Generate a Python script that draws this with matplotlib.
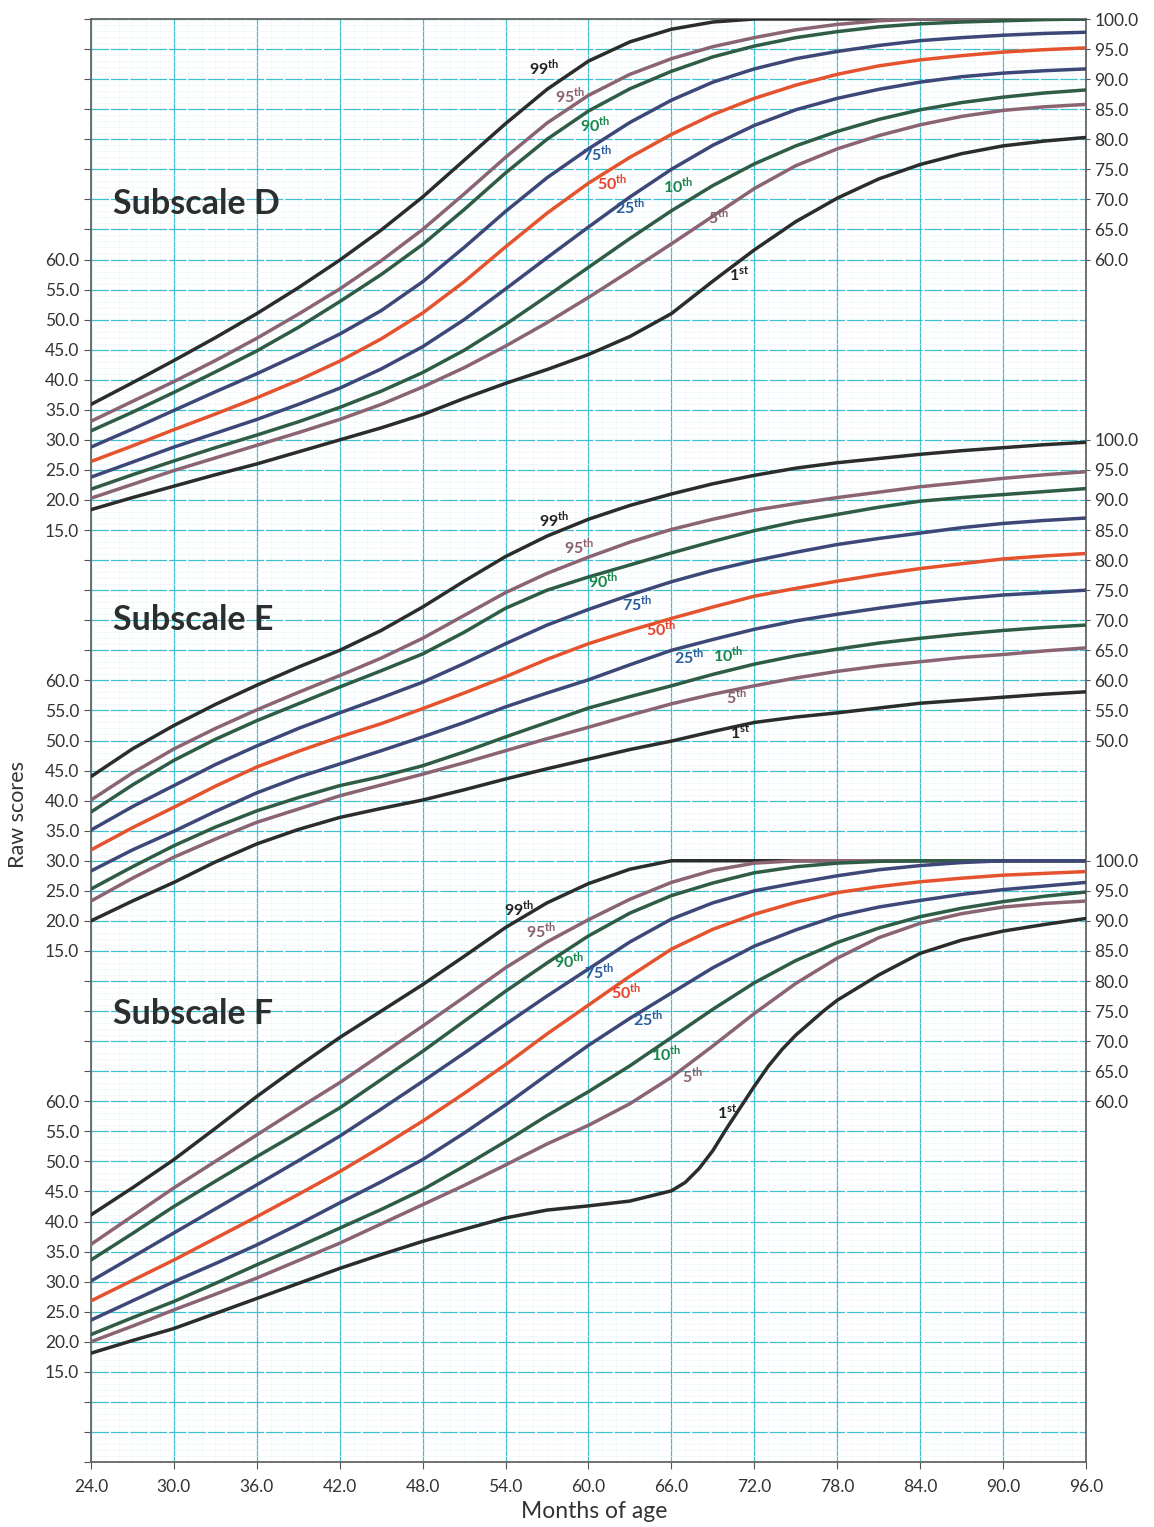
import matplotlib.pyplot as plt
from matplotlib.ticker import MultipleLocator

plt.rcParams['font.family'] = ['Lato', 'DejaVu Sans']
plt.rcParams['mathtext.fontset'] = 'custom'
plt.rcParams['mathtext.rm'] = 'Lato'
plt.rcParams['mathtext.bf'] = 'Lato:bold'

# months of age shared by most curves
months = [24, 27, 30, 33, 36, 39, 42, 45, 48, 51, 54, 57, 60,
          63, 66, 69, 72, 75, 78, 81, 84, 87, 90, 93, 96]

# Subscale D raw scores
d_p99 = [35.9, 39.5, 43.2, 47.0, 51.0, 55.3, 59.9, 64.9, 70.4, 76.5, 82.6, 88.3, 93.0,
         96.2, 98.3, 99.5, 100, 100, 100, 100, 100, 100, 100, 100, 100]
d_p95 = [33.1, 36.4, 39.7, 43.2, 46.9, 50.9, 55.1, 59.8, 65.0, 70.9, 77.0, 82.7, 87.3,
         90.8, 93.4, 95.4, 96.9, 98.2, 99.1, 99.7, 100, 100, 100, 100, 100]
d_p90 = [31.5, 34.6, 37.9, 41.3, 44.8, 48.7, 53.0, 57.5, 62.5, 68.3, 74.4, 80.0, 84.7,
         88.4, 91.3, 93.7, 95.5, 96.9, 97.9, 98.7, 99.2, 99.5, 99.7, 99.9, 100]
d_p75 = [28.8, 31.8, 34.9, 38.0, 41.0, 44.2, 47.6, 51.5, 56.3, 62.0, 68.0, 73.6, 78.4,
         82.8, 86.5, 89.5, 91.7, 93.4, 94.6, 95.6, 96.4, 96.9, 97.3, 97.6, 97.8]
d_p50 = [26.4, 29.0, 31.7, 34.3, 37.0, 39.9, 43.1, 46.8, 51.1, 56.3, 62.1, 67.7, 72.7,
         77.0, 80.8, 84.1, 86.8, 89.0, 90.8, 92.2, 93.2, 93.9, 94.5, 94.9, 95.2]
d_p25 = [23.8, 26.3, 28.8, 31.1, 33.4, 35.9, 38.6, 41.8, 45.5, 50.0, 55.1, 60.3, 65.4,
         70.4, 75.0, 79.0, 82.3, 84.9, 86.8, 88.3, 89.5, 90.4, 91.0, 91.4, 91.7]
d_p10 = [21.8, 24.2, 26.5, 28.7, 30.8, 33.0, 35.4, 38.1, 41.2, 44.9, 49.2, 53.9, 58.7,
         63.5, 68.1, 72.3, 75.9, 78.9, 81.3, 83.3, 84.9, 86.1, 87.0, 87.7, 88.2]
d_p5 = [20.3, 22.6, 24.9, 27.0, 29.1, 31.2, 33.4, 35.9, 38.8, 42.0, 45.6, 49.5, 53.7,
        58.1, 62.6, 67.2, 71.8, 75.6, 78.4, 80.6, 82.4, 83.8, 84.8, 85.4, 85.8]
d_p1 = [18.4, 20.4, 22.3, 24.2, 26.0, 28.0, 30.0, 32.0, 34.2, 36.9, 39.4, 41.7, 44.2,
        47.2, 51.0, 56.4, 61.6, 66.3, 70.2, 73.4, 75.8, 77.6, 78.9, 79.7, 80.3]

# Subscale E raw scores
e_p99 = [44.0, 48.6, 52.5, 56.0, 59.2, 62.2, 65.0, 68.3, 72.2, 76.5, 80.6, 84.0, 86.8,
         89.1, 91.0, 92.7, 94.1, 95.3, 96.2, 96.9, 97.6, 98.2, 98.7, 99.2, 99.6]
e_p95 = [40.1, 44.6, 48.6, 52.0, 55.1, 58.0, 60.8, 63.7, 67.0, 70.8, 74.6, 77.8, 80.5,
         83.0, 85.1, 86.8, 88.3, 89.4, 90.4, 91.3, 92.2, 92.9, 93.6, 94.2, 94.7]
e_p90 = [38.1, 42.6, 46.7, 50.2, 53.3, 56.1, 58.9, 61.6, 64.4, 68.0, 72.0, 75.0, 77.2,
         79.2, 81.2, 83.1, 84.9, 86.4, 87.6, 88.8, 89.8, 90.4, 90.9, 91.4, 91.9]
e_p75 = [35.1, 39.0, 42.5, 46.0, 49.1, 52.0, 54.6, 57.1, 59.7, 62.8, 66.1, 69.2, 71.8,
         74.2, 76.4, 78.3, 79.9, 81.3, 82.6, 83.6, 84.5, 85.4, 86.1, 86.6, 87.0]
e_p50 = [31.8, 35.5, 38.9, 42.4, 45.6, 48.2, 50.6, 52.8, 55.3, 57.9, 60.6, 63.5, 66.1,
         68.3, 70.3, 72.2, 74.0, 75.3, 76.5, 77.6, 78.6, 79.4, 80.2, 80.7, 81.1]
e_p25 = [28.3, 31.8, 34.9, 38.2, 41.3, 43.9, 46.1, 48.3, 50.6, 53.0, 55.6, 57.9, 60.1,
         62.6, 65.0, 66.8, 68.5, 69.9, 71.0, 72.0, 72.9, 73.6, 74.2, 74.6, 75.0]
e_p10 = [25.3, 29.0, 32.5, 35.6, 38.3, 40.5, 42.5, 44.0, 45.8, 48.1, 50.6, 53.0, 55.4,
         57.3, 59.1, 61.0, 62.7, 64.1, 65.2, 66.2, 67.0, 67.7, 68.3, 68.8, 69.2]
e_p5 = [23.3, 27.1, 30.6, 33.6, 36.4, 38.6, 40.8, 42.6, 44.4, 46.3, 48.3, 50.3, 52.2,
        54.2, 56.1, 57.7, 59.1, 60.4, 61.5, 62.4, 63.1, 63.8, 64.3, 64.9, 65.4]
e_p1 = [20.0, 23.3, 26.4, 29.8, 32.8, 35.2, 37.2, 38.7, 40.1, 41.8, 43.6, 45.3, 46.9,
        48.5, 49.9, 51.5, 53.0, 53.9, 54.6, 55.4, 56.2, 56.7, 57.2, 57.7, 58.1]

# Subscale F raw scores
f_p99 = [41.1, 45.6, 50.3, 55.5, 60.8, 65.8, 70.6, 75.0, 79.4, 84.1, 88.9, 93.0, 96.2,
         98.6, 100, 100, 100, 100, 100, 100, 100, 100, 100, 100, 100]
f_p95 = [36.2, 40.9, 45.6, 50.0, 54.4, 58.8, 63.1, 67.8, 72.5, 77.3, 82.2, 86.5, 90.2,
         93.6, 96.4, 98.4, 99.6, 100, 100, 100, 100, 100, 100, 100, 100]
f_p90 = [33.6, 38.0, 42.5, 46.7, 50.8, 54.8, 58.9, 63.6, 68.3, 73.3, 78.3, 83.0, 87.5,
         91.3, 94.2, 96.3, 98.0, 99.0, 99.6, 99.9, 100, 100, 100, 100, 100]
f_p75 = [30.1, 34.1, 38.1, 42.1, 46.1, 50.1, 54.2, 58.7, 63.3, 68.0, 72.8, 77.5, 82.0,
         86.5, 90.3, 93.0, 95.0, 96.3, 97.5, 98.5, 99.2, 99.7, 100, 100, 100]
f_p50 = [26.8, 30.2, 33.6, 37.2, 40.8, 44.5, 48.3, 52.4, 56.7, 61.3, 66.1, 71.2, 76.0,
         80.8, 85.3, 88.6, 91.1, 93.1, 94.7, 95.7, 96.5, 97.1, 97.6, 97.9, 98.2]
f_p25 = [23.6, 26.8, 30.0, 33.0, 36.1, 39.5, 43.1, 46.6, 50.3, 54.7, 59.4, 64.4, 69.3,
         73.8, 78.0, 82.2, 85.8, 88.5, 90.8, 92.3, 93.4, 94.4, 95.2, 95.8, 96.4]
f_p10 = [21.2, 24.0, 26.7, 29.7, 32.8, 35.8, 38.9, 42.0, 45.3, 49.2, 53.3, 57.6, 61.6,
         65.9, 70.6, 75.3, 79.7, 83.4, 86.4, 88.8, 90.7, 92.1, 93.2, 94.1, 94.8]
f_p5 = [20.0, 22.6, 25.3, 27.9, 30.6, 33.5, 36.4, 39.6, 42.8, 46.0, 49.4, 52.9, 56.0,
        59.6, 64.0, 69.2, 74.6, 79.6, 83.8, 87.2, 89.6, 91.2, 92.3, 92.9, 93.3]
f_p1_months = [24, 27, 30, 33, 36, 39, 42, 45, 48, 51, 54, 57, 60, 63, 66, 67, 68, 69,
               70, 71, 72, 73, 74, 75, 76, 77, 78, 81, 84, 87, 90, 93, 96]
f_p1 = [18.1, 20.2, 22.2, 24.7, 27.2, 29.7, 32.2, 34.5, 36.7, 38.7, 40.6, 41.9, 42.6,
        43.4, 45.1, 46.5, 48.8, 51.8, 55.5, 59.0, 62.5, 65.8, 68.6, 71.0, 73.0, 75.0,
        76.8, 81.0, 84.6, 86.8, 88.3, 89.4, 90.4]

pct_names = ['99th', '95th', '90th', '75th', '50th', '25th', '10th', '5th', '1st']
line_colors = ['#2a2d2c', '#8b6473', '#2f5c44', '#3d4878', '#e5532e',
               '#3d4878', '#2f5c44', '#8b6473', '#2a2d2c']
text_colors = ['#222222', '#8a5f6e', '#16864a', '#2a5c9c', '#e8402a',
               '#2a5c9c', '#16864a', '#8a5f6e', '#222222']

# label positions (month, raw score) for each subscale
d_label_pos = [(56.8, 91.9), (58.7, 87.3), (60.5, 82.4), (60.6, 77.6), (61.7, 72.8),
               (63.0, 68.8), (66.5, 72.3), (69.4, 67.2), (70.9, 57.5)]
e_label_pos = [(57.5, 86.7), (59.3, 82.2), (61.1, 76.6), (63.5, 72.8), (65.3, 68.6),
               (67.3, 63.9), (70.1, 64.3), (70.7, 57.3), (71.0, 51.3)]
f_label_pos = [(55.0, 92.0), (56.6, 88.4), (58.6, 83.4), (60.8, 81.5), (62.7, 78.2),
               (64.3, 73.7), (65.6, 67.9), (67.5, 64.2), (70.0, 58.2)]

left_ticks = [15, 20, 25, 30, 35, 40, 45, 50, 55, 60]
d_right = [60, 65, 70, 75, 80, 85, 90, 95, 100]
e_right = [50, 55, 60, 65, 70, 75, 80, 85, 90, 95, 100]
f_right = [60, 65, 70, 75, 80, 85, 90, 95, 100]

# each subscale is stacked on the shared axis with a vertical offset
subscales = [
    ('Subscale D', 140, [d_p99, d_p95, d_p90, d_p75, d_p50, d_p25, d_p10, d_p5, d_p1],
     d_label_pos, d_right, 69.3),
    ('Subscale E', 70, [e_p99, e_p95, e_p90, e_p75, e_p50, e_p25, e_p10, e_p5, e_p1],
     e_label_pos, e_right, 70.1),
    ('Subscale F', 0, [f_p99, f_p95, f_p90, f_p75, f_p50, f_p25, f_p10, f_p5, f_p1],
     f_label_pos, f_right, 74.5),
]

fig = plt.figure(figsize=(11.54, 15.27), dpi=100)
ax = fig.add_axes([91 / 1154, 65 / 1527, 995 / 1154, 1443 / 1527])
ax.set_xlim(24, 96)
ax.set_ylim(0, 240)

cyan = '#42bfcf'
ax.set_xticks(range(24, 97, 6))
ax.set_xticklabels([f'{m:.1f}' for m in range(24, 97, 6)])
ax.set_yticks(range(0, 241, 5))
ax.xaxis.set_minor_locator(MultipleLocator(1))
ax.yaxis.set_minor_locator(MultipleLocator(1))
ax.grid(which='minor', color='#e6f5f7', lw=0.4)
ax.grid(which='major', axis='x', color=cyan, lw=0.9)
ax.grid(which='major', axis='y', color=cyan, lw=0.9, linestyle=(0, (14, 1.5)))
ax.set_axisbelow(True)
ax.tick_params(which='minor', length=0)
ax.tick_params(which='major', length=5, width=0.8, color='#555555',
               labelsize=12.5, labelcolor='#333333')
ax.tick_params(axis='x', pad=7)
for s in ax.spines.values():
    s.set_color('#666666')
    s.set_linewidth(1.3)

left_labels = {}
right_labels = {}
for title, off, curves, lpos, rticks, tlabel_y in subscales:
    for v in left_ticks:
        left_labels[v + off] = f'{v:.1f}'
    for v in rticks:
        right_labels[v + off] = f'{v:.1f}'
    for i, vals in enumerate(curves):
        xs = f_p1_months if vals is f_p1 else months
        ax.plot(xs, [v + off for v in vals], color=line_colors[i], lw=2.5,
                solid_capstyle='round', solid_joinstyle='round', zorder=3)
    for i, (mx, my) in enumerate(lpos):
        name = pct_names[i]
        num, suf = name[:-2], name[-2:]
        ax.text(mx, my + off, num + r'$^{\mathbf{' + suf + '}}$', color=text_colors[i],
                fontsize=11.5, fontweight='bold', ha='center', va='center', zorder=4)
    ax.text(25.6, tlabel_y + off, title, fontsize=24.5, fontweight='bold',
            color='#2b2f2f', ha='left', va='center', zorder=4)

ax.set_yticklabels([left_labels.get(t, '') for t in range(0, 241, 5)])

rax = ax.twinx()
rax.set_ylim(0, 240)
rax.set_yticks(sorted(right_labels))
rax.set_yticklabels([right_labels[t] for t in sorted(right_labels)])
rax.tick_params(length=3, width=0.8, color='#555555', labelsize=12.5,
                labelcolor='#333333', pad=3)
for s in rax.spines.values():
    s.set_visible(False)

fig.text(18 / 1154, 1 - 815 / 1527, 'Raw scores', rotation=90, fontsize=15.5,
         color='#333333', ha='center', va='center')
fig.text(594 / 1154, 1 - 1512 / 1527, 'Months of age', fontsize=16.5,
         color='#333333', ha='center', va='center')

fig.savefig('out.png', dpi=100, facecolor='white')
